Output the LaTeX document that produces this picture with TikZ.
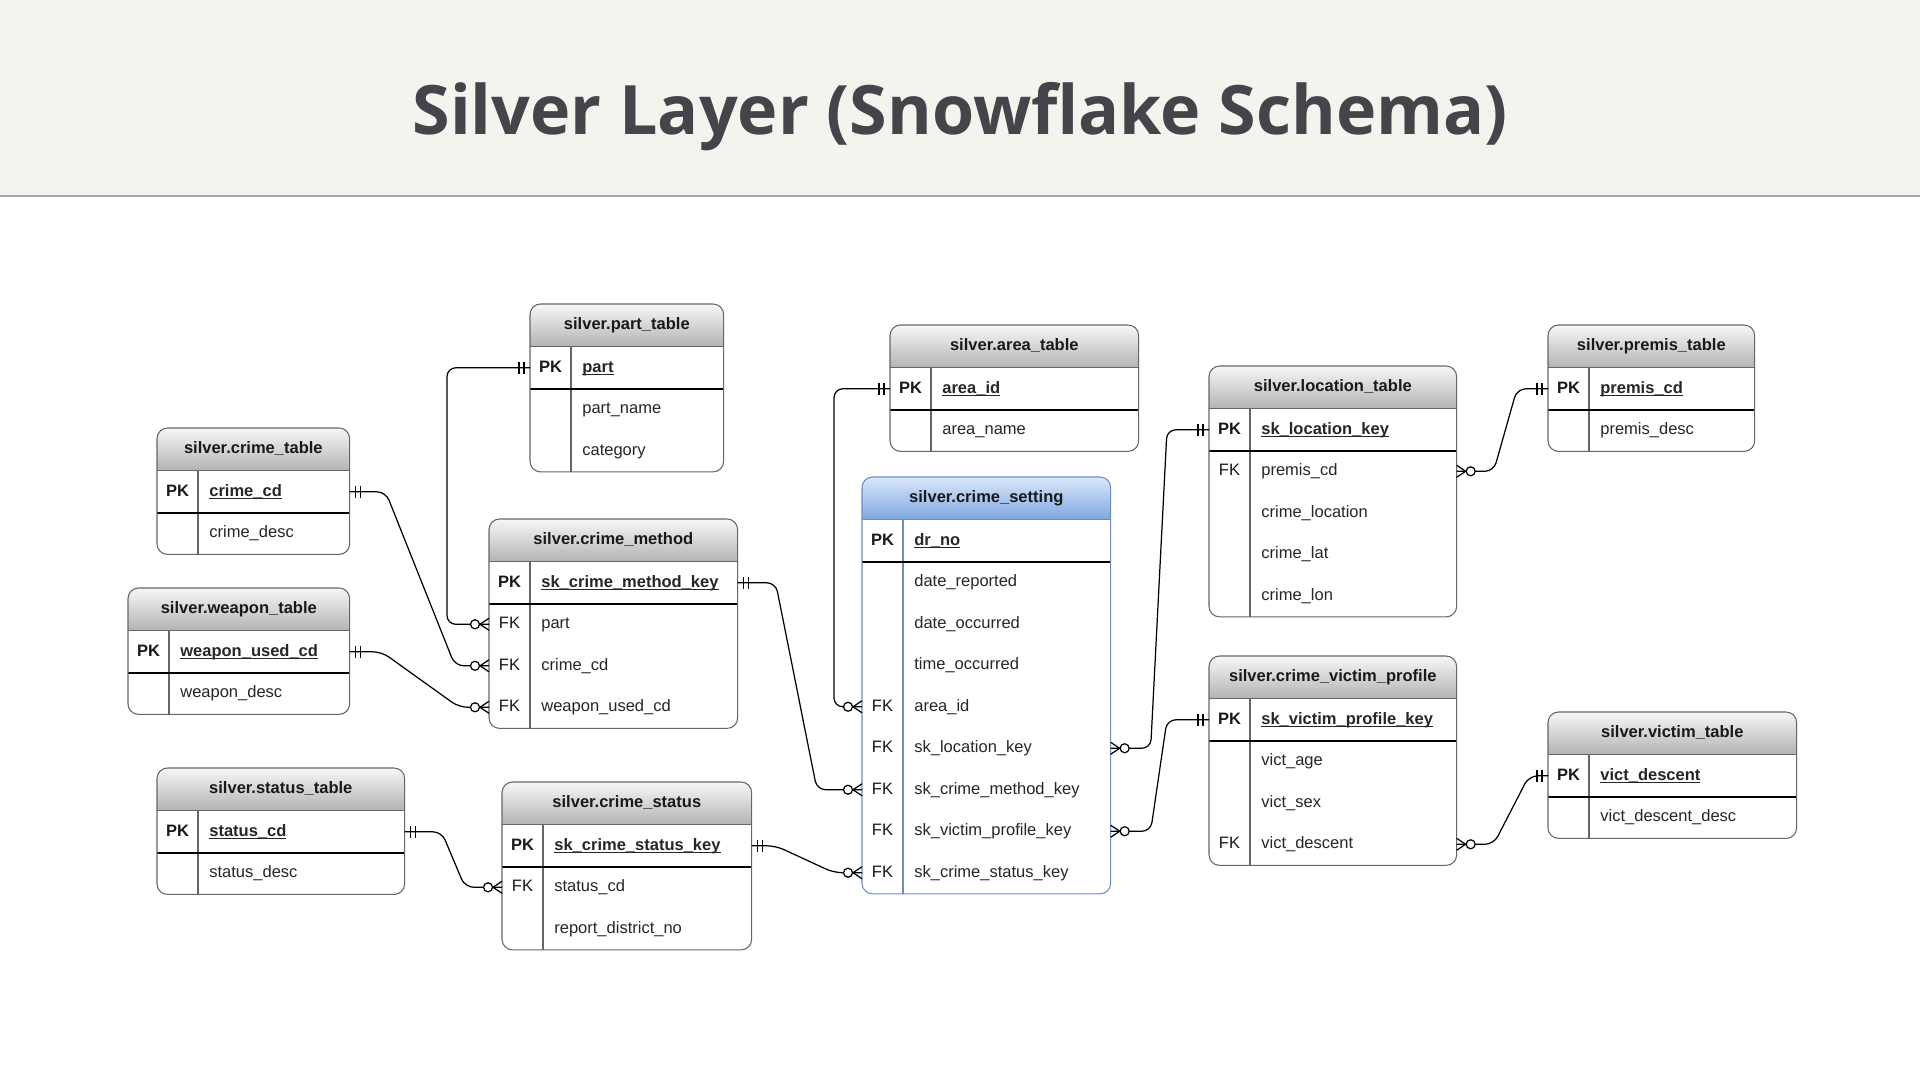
\documentclass[tikz,border=0pt]{standalone}
\usepackage{fontspec}
\setmainfont{Liberation Sans}
\newfontfamily\titlefont{Open Sans}
\usepackage{tikz}
\usetikzlibrary{calc,positioning,backgrounds}

\definecolor{band}{HTML}{F4F4EF}
\definecolor{bandline}{HTML}{A8A8A8}
\definecolor{titlecol}{HTML}{47434B}
\definecolor{greytop}{HTML}{F7F7F7}
\definecolor{greybot}{HTML}{B3B3B3}
\definecolor{greyline}{HTML}{666666}
\definecolor{bluetop}{HTML}{DAE8FC}
\definecolor{bluebot}{HTML}{7EA6E0}
\definecolor{blueline}{HTML}{6C8EBF}

\pgfdeclarelayer{bg}
\pgfdeclarelayer{tabfill}
\pgfsetlayers{bg,tabfill,main}

\newcommand{\tabfont}{\fontsize{9.4pt}{11pt}\selectfont}
\newcommand{\pkey}[1]{\setbox0\hbox{#1}\rlap{\rule[-1.7pt]{\wd0}{0.6pt}}\box0}

\tikzset{
  tabhead/.style={anchor=north west, minimum height=0.84cm, inner sep=0pt, text height=6.8pt, text depth=1.6pt, font=\tabfont\bfseries, text=black!90},
  tabrow/.style={anchor=north west, minimum height=0.83cm, inner sep=0pt},
  keytxt/.style={inner sep=0pt, text height=6.8pt, text depth=1.6pt, font=\tabfont, text=black!90},
  fldtxt/.style={anchor=west, inner sep=0pt, text height=6.8pt, text depth=1.6pt, font=\tabfont, text=black!85},
  greyhead/.style={top color=greytop, bottom color=greybot},
  bluehead/.style={top color=bluetop, bottom color=bluebot},
  greyedge/.style={draw=greyline, line width=0.6pt},
  blueedge/.style={draw=blueline, line width=0.6pt},
  rel/.style={draw, line width=0.7pt, rounded corners=5pt},
  one/.pic={\draw[line width=0.7pt] (-6,-6) -- (-6,6) (-11,-6) -- (-11,6);},
  zeromany/.pic={\draw[line width=0.7pt] (0,-6) -- (-9,0) -- (0,6);
                 \draw[line width=0.7pt, fill=white] (-14,0) circle (4.5);},
}

% [colour] id, top-left corner, width, title, key/field rows
\newcommand{\ertable}[6][grey]{%
  \node[tabhead, minimum width=#4] (#2) at #3 {#5};
  \foreach \kk/\fld [count=\i] in {#6} {
    \node[tabrow, minimum width=#4] (#2-\i) at ([yshift={-(\i-1)*0.83cm}]#2.south west) {};
    \node[keytxt] at ([xshift=0.41cm]#2-\i.west) {\ifnum\i=1 \bfseries\fi\kk};
    \node[fldtxt] at ([xshift=1.04cm]#2-\i.west) {\ifnum\i=1 \bfseries\pkey{\fld}\else\fld\fi};
    \xdef\lastrow{\i}
  }
  \begin{pgfonlayer}{tabfill}
    \begin{scope}
      \clip[rounded corners=6pt] (#2.north west) rectangle (#2-\lastrow.south east);
      \fill[white] (#2.north west) rectangle (#2-\lastrow.south east);
      \shade[#1head] (#2.north west) rectangle (#2.south east);
    \end{scope}
  \end{pgfonlayer}
  \draw[#1edge] (#2.south west) -- (#2.south east);
  \draw[#1edge] ([xshift=0.82cm]#2.south west) -- ([xshift=0.82cm]#2-\lastrow.south west);
  \draw[black, line width=0.8pt] (#2-1.south west) -- (#2-1.south east);
  \draw[#1edge, rounded corners=6pt] (#2.north west) rectangle (#2-\lastrow.south east);
}

\begin{document}
\begin{tikzpicture}[x=0.02cm, y=-0.02cm]
  \useasboundingbox (0,0) rectangle (1920,1080);
  \begin{pgfonlayer}{bg}
    \fill[white] (0,0) rectangle (1920,1080);
    \fill[band] (0,0) rectangle (1920,196);
    \draw[bandline, line width=1.1pt] (0,196) -- (1920,196);
  \end{pgfonlayer}

  \node[font=\titlefont\bfseries\fontsize{38.8pt}{46pt}\selectfont, text=titlecol, anchor=base] (title) at (960,134) {Silver Layer (Snowflake Schema)};

  % lookup tables
  \ertable{part}{(530,304)}{3.86cm}{silver.part\_table}{PK/part, /part\_name, /category}
  \ertable{crime}{(157,428)}{3.84cm}{silver.crime\_table}{PK/crime\_cd, /crime\_desc}
  \ertable{weapon}{(128,588)}{4.42cm}{silver.weapon\_table}{PK/weapon\_used\_cd, /weapon\_desc}
  \ertable{status}{(157,768)}{4.94cm}{silver.status\_table}{PK/status\_cd, /status\_desc}
  \ertable{area}{(890,325)}{4.96cm}{silver.area\_table}{PK/area\_id, /area\_name}
  \ertable{premis}{(1548,325)}{4.12cm}{silver.premis\_table}{PK/premis\_cd, /premis\_desc}
  \ertable{victim}{(1548,712)}{4.96cm}{silver.victim\_table}{PK/vict\_descent, /vict\_descent\_desc}

  % dimension tables
  \ertable{method}{(489,519)}{4.96cm}{silver.crime\_method}{PK/sk\_crime\_method\_key, FK/part, FK/crime\_cd, FK/weapon\_used\_cd}
  \ertable{cstatus}{(502,782)}{4.98cm}{silver.crime\_status}{PK/sk\_crime\_status\_key, FK/status\_cd, /report\_district\_no}
  \ertable{location}{(1209,366)}{4.94cm}{silver.location\_table}{PK/sk\_location\_key, FK/premis\_cd, /crime\_location, /crime\_lat, /crime\_lon}
  \ertable{profile}{(1209,656)}{4.94cm}{silver.crime\_victim\_profile}{PK/sk\_victim\_profile\_key, /vict\_age, /vict\_sex, FK/vict\_descent}

  % fact table
  \ertable[blue]{setting}{(862,477)}{4.96cm}{silver.crime\_setting}{PK/dr\_no, /date\_reported, /date\_occurred, /time\_occurred, FK/area\_id, FK/sk\_location\_key, FK/sk\_crime\_method\_key, FK/sk\_victim\_profile\_key, FK/sk\_crime\_status\_key}

  % relations
  \draw[rel] (part-1.west) -- ++(-83,0) |- (method-2.west);
  \draw[rel] (crime-1.east) -- ++(36,0) -- ($(method-3.west)+(-34,0)$) -- (method-3.west);
  \draw[rel] (weapon-1.east) -- ++(32,0) -- ($(method-4.west)+(-30,0)$) -- (method-4.west);
  \draw[rel] (method-1.east) -- ++(38,0) -- ($(setting-7.west)+(-45,0)$) -- (setting-7.west);
  \draw[rel] (area-1.west) -- ++(-56,0) |- (setting-5.west);
  \draw[rel] (status-1.east) -- ++(37,0) -- ($(cstatus-2.west)+(-37,0)$) -- (cstatus-2.west);
  \draw[rel] (cstatus-1.east) -- ++(24,0) -- ($(setting-9.west)+(-28,0)$) -- (setting-9.west);
  \draw[rel] (setting-6.east) -- ++(40,0) -- ($(location-1.west)+(-42,0)$) -- (location-1.west);
  \draw[rel] (setting-8.east) -- ++(40,0) -- ($(profile-1.west)+(-42,0)$) -- (profile-1.west);
  \draw[rel] (location-2.east) -- ++(37,0) -- ($(premis-1.west)+(-31,0)$) -- (premis-1.west);
  \draw[rel] (profile-4.east) -- ++(37,0) -- ($(victim-1.west)+(-19,0)$) -- (victim-1.west);

  % cardinality ends
  \foreach \e in {part-1.west, area-1.west, location-1.west, profile-1.west, premis-1.west, victim-1.west}
    \pic at (\e) {one};
  \foreach \e in {crime-1.east, weapon-1.east, method-1.east, status-1.east, cstatus-1.east}
    \pic[xscale=-1] at (\e) {one};
  \foreach \e in {method-2.west, method-3.west, method-4.west, setting-5.west, setting-7.west, setting-9.west, cstatus-2.west}
    \pic at (\e) {zeromany};
  \foreach \e in {setting-6.east, setting-8.east, location-2.east, profile-4.east}
    \pic[xscale=-1] at (\e) {zeromany};
\end{tikzpicture}
\end{document}
